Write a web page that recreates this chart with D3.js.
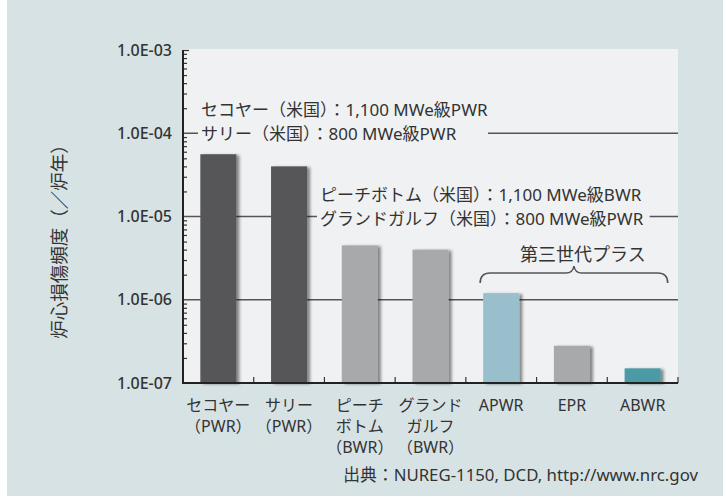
<!DOCTYPE html>
<html>
<head>
<meta charset="utf-8">
<script src="https://d3js.org/d3.v7.min.js"></script>
<style>
  body { margin: 0; background: #fff; }
  svg { display: block; }
  text { font-family: "Noto Sans", "Noto Sans CJK JP", sans-serif; fill: #333; }
</style>
</head>
<body>
<svg id="chart" width="723" height="496"></svg>
<script>
// data
const categories = ["セコヤー", "サリー", "ピーチボトム", "グランドガルフ", "APWR", "EPR", "ABWR"];
const catLabels = [
  ["セコヤー", "（PWR）"],
  ["サリー", "（PWR）"],
  ["ピーチ", "ボトム", "（BWR）"],
  ["グランド", "ガルフ", "（BWR）"],
  ["APWR"], ["EPR"], ["ABWR"]
];
const cdfValues = [5.6e-5, 4.0e-5, 4.5e-6, 4.0e-6, 1.2e-6, 2.8e-7, 1.5e-7];
const barColors = ["#565759", "#565759", "#a7a9aa", "#a7a9aa", "#98bfcb", "#a7a9aa", "#4c9aa6"];
const yMajor = [1e-7, 1e-6, 1e-5, 1e-4, 1e-3];
const yTickLabels = ["1.0E-07", "1.0E-06", "1.0E-05", "1.0E-04", "1.0E-03"];
const notesUS1 = ["セコヤー（米国）：1,100 MWe級PWR", "サリー（米国）：800 MWe級PWR"];
const notesUS2 = ["ピーチボトム（米国）：1,100 MWe級BWR", "グランドガルフ（米国）：800 MWe級PWR"];

const svg = d3.select("#chart");
const panel = "#eff1f2";

// 背景
svg.append("rect").attr("x", 7).attr("y", 0).attr("width", 716).attr("height", 496).attr("fill", "#d7e2e5");
svg.append("rect").attr("x", 183).attr("y", 49).attr("width", 495).attr("height", 334).attr("fill", panel);

const defs = svg.append("defs");
defs.append("filter").attr("id", "shadow").attr("x", "-20%").attr("y", "-20%").attr("width", "160%").attr("height", "140%")
  .append("feDropShadow").attr("dx", 3).attr("dy", 1).attr("stdDeviation", 1.4)
  .attr("flood-color", "#000").attr("flood-opacity", 0.45);

// scales
const x = d3.scaleBand().domain(categories).range([183, 678]).paddingInner(0.49).paddingOuter(0.245);
const y = d3.scaleLog().domain([1e-7, 1e-3]).range([383, 50]);

// grid
svg.append("g").selectAll("line").data(yMajor.slice(1, 4)).join("line")
  .attr("x1", 183).attr("x2", 678)
  .attr("y1", d => y(d)).attr("y2", d => y(d))
  .attr("stroke", "#555").attr("stroke-width", 1.5);

// annotation blocks (with panel background to cut the grid)
function noteBlock(lines, x0, y0, padR) {
  const g = svg.append("g");
  const bg = g.append("rect").attr("fill", panel);
  const t = g.append("g");
  lines.forEach((s, i) => {
    t.append("text").attr("x", x0).attr("y", y0 + i * 24).attr("font-size", 17).text(s);
  });
  const b = t.node().getBBox();
  bg.attr("x", b.x - 3).attr("y", b.y - 1).attr("width", b.width + 3 + padR).attr("height", b.height + 2);
}
noteBlock(notesUS1, 201, 116, 0);
noteBlock(notesUS2, 320, 201, 6);

// bars
svg.append("g").selectAll("rect").data(categories).join("rect")
  .attr("x", d => x(d))
  .attr("width", x.bandwidth())
  .attr("y", (d, i) => y(cdfValues[i]))
  .attr("height", (d, i) => y(1e-7) - y(cdfValues[i]))
  .attr("fill", (d, i) => barColors[i])
  .attr("filter", "url(#shadow)");

// y axis
const minor = [];
for (let e = -7; e < -3; e++) for (let k = 2; k <= 9; k++) minor.push(k * Math.pow(10, e));
svg.append("g").attr("transform", "translate(183,0)")
  .call(d3.axisRight(y).tickValues(minor).tickSize(4).tickFormat(""))
  .call(g => g.select(".domain").remove())
  .call(g => g.selectAll("line").attr("stroke", "#333").attr("stroke-width", 1.2));
svg.append("g").attr("transform", "translate(183,0)")
  .call(d3.axisLeft(y).tickValues(yMajor).tickSize(0).tickPadding(11).tickFormat((d, i) => yTickLabels[i]))
  .call(g => g.select(".domain").remove())
  .call(g => g.selectAll("text").attr("font-size", 16).attr("font-weight", 500)
    .style("font-family", '"Noto Sans", sans-serif').attr("fill", "#3a3a3a"));
svg.append("g").attr("transform", "translate(183,0)")
  .call(d3.axisRight(y).tickValues([1e-3]).tickSize(6).tickFormat(""))
  .call(g => g.select(".domain").remove())
  .call(g => g.selectAll("line").attr("stroke", "#333").attr("stroke-width", 1.2));

// x axis ticks at band borders
const edges = d3.range(1, categories.length + 1).map(i => 183 + i * x.step());
svg.append("g").selectAll("line").data(edges).join("line")
  .attr("x1", d => d).attr("x2", d => d).attr("y1", 383).attr("y2", 377)
  .attr("stroke", "#333").attr("stroke-width", 1.2);

// axis lines
svg.append("path").attr("d", "M183,50V383H678").attr("fill", "none")
  .attr("stroke", "#222").attr("stroke-width", 2);

// x labels
const xl = svg.append("g");
categories.forEach((c, i) => {
  catLabels[i].forEach((s, j) => {
    xl.append("text").attr("x", x(c) + x.bandwidth() / 2).attr("y", 411 + j * 21)
      .attr("text-anchor", "middle").attr("font-size", 16).text(s);
  });
});

// 第三世代プラス brace
const bx0 = x("APWR") - 3, bx1 = x("ABWR") + x.bandwidth() + 7, bm = (bx0 + bx1) / 2;
svg.append("path")
  .attr("d", `M${bx0},283 Q${bx0},273 ${bx0 + 10},273 H${bm - 8} Q${bm - 1},273 ${bm},266 Q${bm + 1},273 ${bm + 8},273 H${bx1 - 10} Q${bx1},273 ${bx1},283`)
  .attr("fill", "none").attr("stroke", "#555").attr("stroke-width", 1.6);
svg.append("text").attr("x", bm + 9).attr("y", 261).attr("text-anchor", "middle")
  .attr("font-size", 18).text("第三世代プラス");

// y title
svg.append("text").attr("transform", "translate(66,237) rotate(-90)")
  .attr("text-anchor", "middle").attr("font-size", 18.5).attr("fill", "#444")
  .text("炉心損傷頻度（／炉年）");

// source
svg.append("text").attr("x", 698).attr("y", 481).attr("text-anchor", "end")
  .attr("font-size", 16.8).text("出典：NUREG-1150, DCD, http://www.nrc.gov");
</script>
</body>
</html>
